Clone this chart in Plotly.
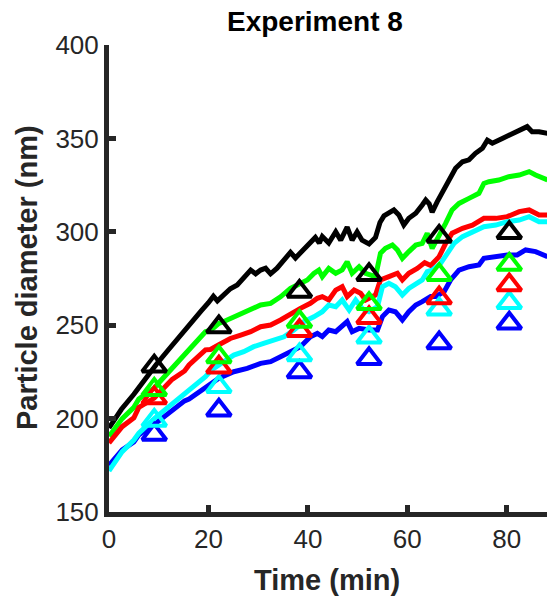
import plotly.graph_objects as go

# ---- data ----
t_black = [0, 2.5, 5, 7.5, 9.5, 12, 14.5, 16.5, 18.5, 20, 21, 21.8, 23.1, 24.4, 25.8, 27.1, 28.5, 29.5, 30.5, 31.5,
           32.5, 33.8, 35.2, 36.5, 37.5, 38.9, 40.2, 41.5, 42.3, 42.9, 44.2, 45.6, 46.6, 47.9, 48.9, 49.9, 50.9, 52.3,
           53.6, 54.5, 55.3, 56.5, 57.3, 58.3, 59.3, 60.3, 61.7, 63.0, 63.7, 64.4, 65.0, 66.0, 67.4, 68.7, 69.7, 71.1,
           72.4, 73.7, 75.1, 76.1, 77.1, 79.1, 81.1, 82.8, 84.1, 85.1, 86.5, 88.2]
d_black = [195, 205, 213, 222, 229, 237, 245, 252, 257.5, 262, 265.5, 263, 266, 269.5, 271.5, 275, 279.5, 277.5, 279.5,
           280.5, 277.5, 280.5, 285, 289, 286, 290, 293.5, 297, 294, 297.5, 294, 300, 295.5, 302.5, 295.5, 300, 295.5,
           293.5, 297, 305, 308.5, 310, 311.7, 309, 303.6, 307.2, 309.9, 314.4, 317, 315, 310.5, 316, 322.5, 329.5,
           334, 337.5, 338.5, 342, 344.7, 349, 347.4, 350, 352.7, 354.5, 356.3, 353.6, 353.6, 352.7]

t_green = [0, 2.65, 5, 6, 9.1, 12.7, 15.2, 16.1, 19.4, 20.6, 22.1, 23.1, 24.4, 26.5, 28.5, 30.5, 32.5, 34.5, 36.5, 38.5,
           39.9, 41.2, 42.2, 42.9, 44.2, 45.6, 46.9, 47.9, 48.9, 50.3, 51.6, 53.6, 54.6, 55.6, 57.0, 58.0, 59.0, 60.3,
           61.7, 63.0, 64.0, 65.0, 66.4, 67.7, 69.0, 70.4, 72.4, 74.4, 75.4, 76.4, 78.4, 80.4, 82.5, 84.5, 85.8, 88.2]
d_green = [190.5, 200, 206, 210.5, 216.5, 227, 234, 237, 246.5, 247.5, 251, 252, 253.6, 256.3, 259, 260.8, 261.7, 265.2,
           269.7, 272.4, 274.2, 277.7, 279.5, 276, 280.4, 277.8, 279.6, 284, 277.8, 281.3, 277.8, 276, 288.5, 291.2,
           292.9, 290.3, 285.8, 289.4, 292.9, 293.8, 299.2, 291.1, 297.4, 304.5, 311.7, 315.2, 317.9, 320.6, 325.9,
           326.8, 327.7, 329.5, 330.4, 332.2, 330.4, 327.7]

t_red = [0, 2.65, 5, 6, 9.1, 12.7, 15.2, 16.1, 19.4, 20.4, 22.1, 24.4, 26.5, 28.5, 30.5, 32.5, 34.5, 36.5, 38.5, 40.5,
         41.9, 42.9, 44.2, 45.6, 46.9, 47.9, 49.3, 50.6, 51.6, 53.6, 54.6, 56.3, 58.0, 59.0, 60.3, 62.0, 63.5, 64.7,
         66.4, 67.7, 69.0, 71.1, 73.1, 75.4, 77.8, 80.1, 82.5, 84.5, 86.5, 88.2]
d_red = [187, 195.7, 200.4, 206, 211, 221, 225.5, 228.7, 236.8, 237, 239.5, 242.9, 244.7, 246.5, 249.2, 250.1, 252.8,
         256.3, 259, 261.7, 264.4, 265.3, 263.5, 268.8, 270.6, 265.3, 268.8, 267.1, 263.5, 266.2, 274.2, 276, 277.8,
         274.2, 277.8, 280.4, 283.5, 282, 286.7, 293.8, 299.2, 301.9, 303.6, 307.2, 307.2, 308.1, 310.8, 311.7, 309, 309]

t_cyan = [0, 2.65, 5, 6, 9.1, 12.7, 15.2, 16.1, 19.4, 20.6, 22.1, 23.1, 25.1, 27.1, 29.1, 31.1, 33.2, 35.2, 37.2, 39.2,
          41.2, 42.9, 44.2, 45.6, 46.9, 48.3, 49.6, 50.9, 52.3, 54.0, 55.0, 56.3, 57.6, 59.0, 60.3, 61.7, 63.0, 64.0,
          65.0, 66.7, 68.0, 69.4, 71.1, 73.1, 75.4, 77.8, 80.1, 82.5, 84.5, 86.5, 88.2]
d_cyan = [172, 182.3, 188.5, 192.2, 200, 208, 213, 215, 222.5, 226, 228.5, 230.4, 234, 235.8, 238.5, 240.3, 242, 243.8,
          247.4, 251.9, 254.5, 257.2, 260.8, 259.9, 263.5, 258.1, 263.5, 259, 257.2, 259.9, 270.6, 272.4, 270.6, 266.2,
          269.7, 272.4, 274.2, 278.7, 279.5, 283.1, 288.5, 293.8, 297.4, 300.1, 302.7, 303.6, 305.4, 306.3, 308.1,
          305.4, 305.4]

t_blue = [0, 2.65, 5, 6, 9.4, 12.7, 15.2, 16.1, 19.4, 20.4, 22.1, 25.1, 27.8, 30.5, 32.5, 34.5, 36.5, 38.5, 40.5, 41.9,
          42.9, 44.2, 45.6, 46.9, 47.9, 48.9, 50.3, 52.3, 54.0, 55.0, 56.3, 57.6, 59.0, 60.3, 61.7, 63.0, 64.7, 65.7,
          67.4, 68.7, 70.4, 72.4, 74.4, 75.4, 77.8, 80.1, 82.1, 83.8, 85.8, 88.2]
d_blue = [175, 183.2, 187.5, 191.3, 197.5, 204.6, 209.5, 210.5, 217, 219, 221.6, 225.1, 226.9, 229.6, 230.5, 233.1,
          235.8, 238.5, 243.8, 245.6, 243.9, 247.4, 246.5, 249.2, 251.9, 246.5, 248.3, 247.4, 247.4, 254.6, 258.1,
          257.2, 252.8, 257.2, 260.8, 262.6, 265.3, 265.3, 267.9, 274.2, 279.5, 281.3, 282.2, 285.8, 286.7, 287.6,
          287.6, 290.3, 289.4, 286.7]

t_obs = [9.1, 22.1, 38.3, 52.3, 66.4, 80.5]
obs_black = [228, 249, 268, 277, 297.5, 299.5]
obs_green = [215.5, 233, 252, 261.5, 277, 282.5]
obs_red = [211, 227.5, 247, 254, 264.5, 271.5]
obs_cyan = [199, 217, 234, 243.5, 258.5, 262]
obs_blue = [191.5, 204.5, 225, 232, 240.5, 251]

title_text = "Experiment 8"
x_title = "Time (min)"
y_title = "Particle diameter (nm)"
x_ticks = [0, 20, 40, 60, 80]
y_ticks = [150, 200, 250, 300, 350, 400]

# ---- figure ----
FONT = "Liberation Sans, Arial, Helvetica, sans-serif"
AX = "#262626"

lines = [
    (t_black, d_black, "#000000"),
    (t_green, d_green, "#00FF00"),
    (t_red, d_red, "#FF0000"),
    (t_blue, d_blue, "#0000FF"),
    (t_cyan, d_cyan, "#00FFFF"),
]
markers = [
    (obs_blue, "#0000FF"),
    (obs_cyan, "#00FFFF"),
    (obs_red, "#FF0000"),
    (obs_green, "#00FF00"),
    (obs_black, "#000000"),
]

fig = go.Figure()
for tx, dy, col in lines:
    fig.add_trace(go.Scatter(x=tx, y=dy, mode="lines",
                             line=dict(color=col, width=5), showlegend=False,
                             hoverinfo="skip"))
for dy, col in markers:
    fig.add_trace(go.Scatter(x=t_obs, y=dy, mode="markers",
                             marker=dict(symbol="triangle-up-open", size=21, color=col,
                                         line=dict(color=col, width=4)),
                             showlegend=False, hoverinfo="skip"))

L, R, T, B = 109, 0, 45, 87
W, H = 547, 599
pw = W - L - R
ph = H - T - B

fig.update_layout(
    width=W, height=H,
    margin=dict(l=L, r=R, t=T, b=B, pad=0),
    paper_bgcolor="white", plot_bgcolor="white",
    font=dict(family=FONT, size=26, color=AX),
    xaxis=dict(range=[0, pw / 4.972], tickmode="array", tickvals=x_ticks,
               ticks="inside", ticklen=7, tickwidth=5, tickcolor=AX,
               showline=True, linewidth=5, linecolor=AX, showgrid=False, zeroline=False,
               tickfont=dict(family=FONT, size=26, color=AX)),
    yaxis=dict(range=[150, 400], tickmode="array", tickvals=y_ticks,
               ticks="inside", ticklen=7, tickwidth=5, tickcolor=AX,
               showline=True, linewidth=5, linecolor=AX, showgrid=False, zeroline=False,
               tickfont=dict(family=FONT, size=26, color=AX)),
    annotations=[
        dict(text="<b>%s</b>" % title_text, xref="paper", yref="paper",
             x=(315 - L) / pw, y=(H - B - 21) / ph, xanchor="center", yanchor="middle",
             showarrow=False, font=dict(family=FONT, size=28, color="#000000")),
        dict(text="<b>%s</b>" % x_title, xref="paper", yref="paper",
             x=(326.5 - L) / pw, y=(H - B - 580) / ph, xanchor="center", yanchor="middle",
             showarrow=False, font=dict(family=FONT, size=29, color=AX)),
        dict(text="<b>%s</b>" % y_title, xref="paper", yref="paper", textangle=-90,
             x=(27 - L) / pw, y=(H - B - 278) / ph, xanchor="center", yanchor="middle",
             showarrow=False, font=dict(family=FONT, size=29, color=AX)),
    ],
)

fig.write_html("out.html")
